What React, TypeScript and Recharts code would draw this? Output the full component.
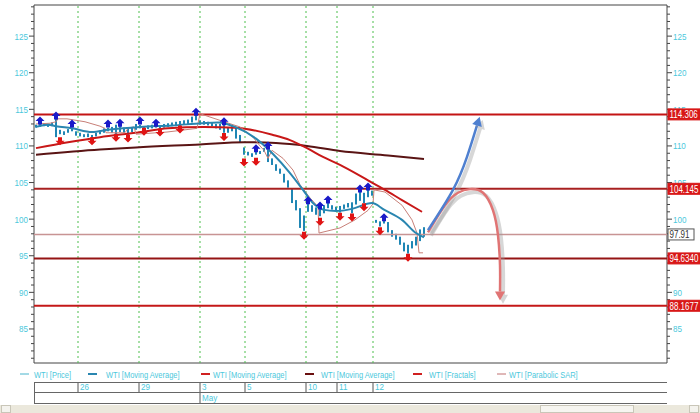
import React from "react";
import {
  ComposedChart,
  Bar,
  Line,
  Scatter,
  XAxis,
  YAxis,
  ReferenceLine,
  ReferenceArea,
} from "recharts";

// ---------- data ----------
const priceHigh = [
  112.9, 113.0, 113.1, 113.0, 113.2, 113.9,
  112.2, 112.0, 112.3, 112.5, 112.0,
  111.8, 111.6, 111.7, 111.5, 111.8, 112.1,
  112.4, 112.5, 112.6, 112.9, 112.7, 112.5, 112.4, 112.6, 113.0,
  112.9, 112.7, 112.8, 112.9, 112.8, 112.8, 113.0, 113.1, 113.2,
  113.3, 113.4, 113.5, 113.6, 114.0, 114.2,
  113.5, 113.4, 113.3, 113.2, 113.0, 113.0, 112.9, 112.5, 112.8,
  112.6, 111.5, 109.8, 109.2, 109.0, 109.2, 109.3, 109.7, 109.6, 108.3,
  107.5, 106.9, 106.2, 105.3, 104.2, 102.6, 101.5, 100.5, 102.1, 101.9,
  101.6, 101.4, 101.9, 102.2, 101.9, 101.7, 101.8, 102.0, 102.2, 102.3,
  103.5, 103.8, 103.6, 104.0, 103.9,
  99.9, 99.7, 99.8, 99.6, 98.5, 98.0, 97.6, 96.8, 96.5, 97.0, 97.6, 98.6, 98.9,
];
const priceLow = [
  112.5, 112.6, 112.7, 112.6, 112.7, 111.2,
  111.6, 111.5, 111.8, 112.0, 111.4,
  111.3, 111.2, 111.2, 111.0, 111.3, 111.6,
  111.8, 112.0, 111.8, 111.6, 111.9, 111.8, 111.5, 111.9, 112.2,
  112.4, 112.3, 112.3, 112.4, 112.5, 112.3, 112.5, 112.6, 112.7,
  112.7, 112.7, 113.0, 113.0, 113.2, 113.5,
  112.9, 112.9, 112.8, 112.7, 112.4, 112.2, 111.8, 111.8, 112.0,
  111.0, 110.5, 108.8, 108.7, 108.5, 108.8, 108.9, 109.2, 107.8, 107.4,
  106.6, 106.2, 105.0, 104.3, 102.2, 101.2, 98.8, 98.4, 101.0, 101.0,
  100.6, 100.4, 100.8, 101.5, 101.3, 101.2, 100.9, 101.4, 101.6, 100.8,
  102.0, 102.5, 102.2, 103.0, 103.2,
  99.5, 99.0, 99.4, 98.2, 97.6, 97.2, 96.5, 95.6, 95.3, 96.0, 96.4, 97.0, 97.6,
];

// [bar index, value]
const maFast = [
  [0, 112.6], [3, 112.9], [5, 112.7], [9, 112.4], [14, 111.9], [18, 112.2],
  [26, 112.6], [34, 112.8], [41.5, 113.1], [45.5, 113.2], [49.75, 112.6],
  [55, 111.0], [59.25, 108.9], [63.5, 106.3], [66.75, 104.0], [69.25, 102.2],
  [71.75, 101.3], [75, 101.1], [79, 101.4], [84, 102.2], [87, 101.3],
  [91.5, 99.9], [95, 98.1], [97, 97.5],
];
const maMid = [
  [0, 109.7], [8, 110.5], [16, 111.2], [25, 111.8], [33, 112.4], [42, 112.6],
  [50, 112.5], [59.25, 111.5], [63.5, 110.8], [67.75, 109.7], [71.75, 108.5],
  [76, 107.4], [83, 105.3], [87.25, 104.0], [91.5, 102.6], [96.5, 101.0],
];
const maSlow = [
  [0, 108.8], [16, 109.5], [25, 109.8], [41, 110.2], [52, 110.5], [60, 110.4],
  [67.75, 110.0], [76, 109.3], [88, 108.7], [97, 108.2],
];
const parabolicSar = [
  [0, 113.0], [3.5, 113.1], [5, 113.3], [5.5, 113.7], [7.75, 113.7],
  [12.25, 113.3], [16, 112.7], [17.25, 112.4], [17.5, 111.8], [22.25, 111.8],
  [23, 112.4], [24.5, 112.6], [25, 111.6], [32.75, 111.9], [40.25, 112.4],
  [41, 114.4], [49.25, 112.9], [51, 112.6], [54.25, 111.2], [56, 110.0],
  [57, 109.4], [58, 108.3], [59, 109.4], [61.75, 108.3], [64.25, 106.7],
  [66, 104.7], [68.5, 102.9], [70.5, 101.7], [70.75, 98.1], [76, 98.8],
  [79.75, 99.9], [83, 101.2], [84.25, 102.1], [84.5, 104.0], [87.25, 103.7],
  [91.5, 101.9], [94, 99.9], [95.25, 98.1], [95.75, 95.4], [96.75, 95.4],
];
const fractalUp = [
  [1, 113.4], [5, 114.1], [9, 113.0], [18, 113.0], [21, 113.1], [26, 113.4],
  [30, 113.1], [40, 114.6], [47, 113.3], [55, 109.6], [58, 110.0], [68, 102.5],
  [71, 101.8], [73, 102.6], [81, 104.1], [83, 104.4], [87, 100.2],
];
const fractalDown = [
  [6, 110.7], [14, 110.7], [20, 111.2], [23, 111.1], [27, 112.0], [31, 111.9],
  [36, 112.3], [47, 111.3], [52, 107.8], [55, 107.9], [67, 97.8], [71, 99.7],
  [76, 100.4], [79, 100.3], [82, 101.7], [86, 98.4], [93, 94.8],
];
const scenarioUp = [[98, 98.5], [104.25, 104.0], [107.75, 108.5], [110.25, 112.8]];
const scenarioDown = [
  [98, 98.2], [102.25, 101.9], [105.5, 103.6], [108.5, 104.1], [111.75, 103.6],
  [114.25, 101.2], [115.5, 97.8], [116, 93.7], [116, 90.1],
];

const levelValues = [114.306, 104.145, 97.91, 94.634, 88.1677];
const levelLabels = ["114.306", "104.145", "97.91", "94.6340", "88.1677"];

const dayTicks = [10.5, 25.75, 41, 52.25, 67.5, 75.25, 84.25];
const dayLabels = ["26", "29", "3", "5", "10", "11", "12"];
const monthLabels = ["", "", "May", "", "", "", ""];
const legendLabels = [
  "WTI [Price]",
  "WTI [Moving Average]",
  "WTI [Moving Average]",
  "WTI [Moving Average]",
  "WTI [Fractals]",
  "WTI [Parabolic SAR]",
];

// ---------- styles / layout ----------
const FONT = "'Liberation Sans',Arial,sans-serif";
const AXIS_TEXT = "#4cc8dc";
const Y_DOMAIN: [number, number] = [80.35, 129.25];
const X_DOMAIN: [number, number] = [-0.5, 157.75];
const yAllTicks = Array.from({ length: 49 }, (_, k) => 81 + k);
const levelStyles = [
  { stroke: "#c41414", width: 2, bg: "#d81818", fg: "#ffffff", border: "#d81818" },
  { stroke: "#a82020", width: 2, bg: "#d81818", fg: "#ffffff", border: "#d81818" },
  { stroke: "#c89494", width: 1.5, bg: "#ffffff", fg: "#333333", border: "#555555" },
  { stroke: "#951414", width: 2, bg: "#d81818", fg: "#ffffff", border: "#d81818" },
  { stroke: "#c41818", width: 2, bg: "#d81818", fg: "#ffffff", border: "#d81818" },
];
const legendLayout = [
  { lx: 20, tx: 34, color: "#48b4cc", w: 1 },
  { lx: 88, tx: 106, color: "#2a86b0", w: 2 },
  { lx: 201, tx: 213, color: "#d02020", w: 2 },
  { lx: 305, tx: 321, color: "#6a1010", w: 2 },
  { lx: 413, tx: 429, color: "#d02020", w: 2 },
  { lx: 497, tx: 509, color: "#c07070", w: 1 },
];
const TAG_X = 668;

const toPts = (arr: number[][]) => arr.map(([i, v]) => ({ i, v }));
const candles = priceHigh.map((h, i) => ({ i, range: [priceLow[i], h] }));
const shadowOf = (arr: number[][]) => arr.map(([i, v]) => [i + 0.75, v - 0.42]);

// narrow text helper (horizontal squeeze)
const NText = ({ x, y, sx = 0.82, anchor = "start", size = 9.5, fill = AXIS_TEXT, children }: any) => (
  <text
    transform={`translate(${x} ${y}) scale(${sx} 1)`}
    x={0}
    y={0}
    textAnchor={anchor}
    fontSize={size}
    fontFamily={FONT}
    fill={fill}
  >
    {children}
  </text>
);

// ---------- custom renderers ----------
const LeftTick = (props: any) => {
  const { x, y, payload } = props;
  const v = payload.value;
  const major = v % 5 === 0;
  return (
    <g>
      <line x1={x - (major ? 5 : 3)} x2={x} y1={y} y2={y} stroke="#444" />
      {major && (
        <NText x={x - 6} y={y + 3.5} anchor="end" sx={0.85}>
          {v}
        </NText>
      )}
    </g>
  );
};
const RightTick = (props: any) => {
  const { x, y, payload } = props;
  const v = payload.value;
  const major = v % 5 === 0;
  return (
    <g>
      <line x1={x} x2={x + (major ? 5 : 3)} y1={y} y2={y} stroke="#444" />
      {major && (
        <NText x={x + 6} y={y + 3.5} anchor="start" sx={0.85}>
          {v}
        </NText>
      )}
    </g>
  );
};
// tags for level lines, drawn by a thin axis placed at the right edge (rendered after the price axis)
const TagTick = (props: any) => {
  const { y, payload } = props;
  const k = levelValues.indexOf(payload.value);
  if (k < 0) return <g />;
  const st = levelStyles[k];
  const w = st.bg === "#ffffff" ? 26 : 40;
  return (
    <g>
      <rect x={TAG_X} y={y - 5.5} width={w} height={11} fill={st.bg} stroke={st.border} />
      <NText x={TAG_X + 1.5} y={y + 4} size={10} sx={0.8} fill={st.fg}>
        {levelLabels[k]}
      </NText>
    </g>
  );
};
const DateTick = (props: any) => {
  const { x, y, payload } = props;
  const k = dayTicks.indexOf(payload.value);
  return (
    <g>
      <line x1={x} x2={x} y1={y + 19} y2={y + 29} stroke="#555" />
      <NText x={x + 2} y={y + 27} sx={0.85}>
        {dayLabels[k]}
      </NText>
      {monthLabels[k] ? (
        <g>
          <line x1={x} x2={x} y1={y + 29} y2={y + 40} stroke="#555" />
          <NText x={x + 2} y={y + 38} sx={0.85}>
            {monthLabels[k]}
          </NText>
        </g>
      ) : null}
    </g>
  );
};
const CandleShape = (p: any) => {
  const cx = Math.round(p.x + p.width / 2);
  return <rect x={cx - 1} y={p.y} width={2} height={Math.max(p.height, 1)} fill="#1f86b4" />;
};
const UpArrow = (props: any) => {
  const { cx, cy } = props;
  return (
    <path
      d={`M${cx - 4.5},${cy} L${cx},${cy - 4.5} L${cx + 4.5},${cy} L${cx + 2},${cy} L${cx + 2},${cy + 3.5} L${cx - 2},${cy + 3.5} L${cx - 2},${cy} Z`}
      fill="#1a1ac8"
    />
  );
};
const DownArrow = (props: any) => {
  const { cx, cy } = props;
  return (
    <path
      d={`M${cx - 4.5},${cy} L${cx},${cy + 4.5} L${cx + 4.5},${cy} L${cx + 2},${cy} L${cx + 2},${cy - 3.5} L${cx - 2},${cy - 3.5} L${cx - 2},${cy} Z`}
      fill="#e01414"
    />
  );
};
const headDot = (len: number, color: string, dir: [number, number]) => (p: any) => {
  if (p.index !== len - 1) return <g key={`d${p.index}`} />;
  const { cx, cy } = p;
  const [dx, dy] = dir;
  const px = -dy, py = dx;
  const tip = [cx + dx * 9, cy + dy * 9];
  const a = [cx + px * 5, cy + py * 5];
  const b = [cx - px * 5, cy - py * 5];
  return (
    <polygon key={`d${p.index}`} points={`${tip[0]},${tip[1]} ${a[0]},${a[1]} ${b[0]},${b[1]}`} fill={color} />
  );
};

const upDir: [number, number] = [0.3, -0.954];
const downDir: [number, number] = [0, 1];

export default function App() {
  return (
    <div
      style={{
        position: "absolute",
        left: 0,
        top: 0,
        width: 700,
        height: 413,
        background: "#ffffff",
        overflow: "hidden",
      }}
    >
      <ComposedChart
        width={700}
        height={413}
        data={candles}
        margin={{ top: 5, right: 0, bottom: 0, left: 0 }}
      >
        <XAxis
          xAxisId="x"
          dataKey="i"
          type="number"
          domain={X_DOMAIN}
          allowDataOverflow
          ticks={dayTicks}
          interval={0}
          height={50}
          tickSize={0}
          tickMargin={0}
          axisLine={false}
          tickLine={false}
          tick={DateTick}
        />
        <YAxis
          yAxisId="left"
          orientation="left"
          type="number"
          domain={Y_DOMAIN}
          allowDataOverflow
          ticks={yAllTicks}
          interval={0}
          width={34}
          tickSize={0}
          tickMargin={0}
          axisLine={false}
          tickLine={false}
          tick={LeftTick}
        />
        <YAxis
          yAxisId="right"
          orientation="right"
          type="number"
          domain={Y_DOMAIN}
          allowDataOverflow
          ticks={yAllTicks}
          interval={0}
          width={32}
          tickSize={0}
          tickMargin={0}
          axisLine={false}
          tickLine={false}
          tick={RightTick}
        />
        <YAxis
          yAxisId="tags"
          orientation="right"
          type="number"
          domain={Y_DOMAIN}
          allowDataOverflow
          ticks={levelValues}
          interval={0}
          width={1}
          tickSize={0}
          tickMargin={0}
          axisLine={false}
          tickLine={false}
          tick={TagTick}
        />
        <ReferenceArea
          xAxisId="x"
          yAxisId="left"
          x1={X_DOMAIN[0]}
          x2={X_DOMAIN[1]}
          y1={Y_DOMAIN[0]}
          y2={Y_DOMAIN[1]}
          fill="none"
          stroke="#444"
          strokeWidth={1}
          ifOverflow="visible"
        />
        {dayTicks.map((t) => (
          <ReferenceLine
            key={`d${t}`}
            xAxisId="x"
            yAxisId="left"
            x={t}
            stroke="#4cbf4c"
            strokeDasharray="2 3"
          />
        ))}
        {levelValues.map((v, k) => (
          <ReferenceLine
            key={`l${k}`}
            xAxisId="x"
            yAxisId="left"
            y={v}
            stroke={levelStyles[k].stroke}
            strokeWidth={levelStyles[k].width}
          />
        ))}
        <Line
          xAxisId="x"
          yAxisId="left"
          data={toPts(maSlow)}
          dataKey="v"
          type="monotone"
          stroke="#5a1414"
          strokeWidth={2}
          dot={false}
          isAnimationActive={false}
        />
        <Line
          xAxisId="x"
          yAxisId="left"
          data={toPts(maMid)}
          dataKey="v"
          type="monotone"
          stroke="#c81818"
          strokeWidth={2}
          dot={false}
          isAnimationActive={false}
        />
        <Bar
          xAxisId="x"
          yAxisId="left"
          dataKey="range"
          barSize={2}
          fill="#1f86b4"
          shape={CandleShape}
          isAnimationActive={false}
        />
        <Line
          xAxisId="x"
          yAxisId="left"
          data={toPts(parabolicSar)}
          dataKey="v"
          type="linear"
          stroke="#c88078"
          strokeWidth={1}
          dot={false}
          isAnimationActive={false}
        />
        <Line
          xAxisId="x"
          yAxisId="left"
          data={toPts(maFast)}
          dataKey="v"
          type="monotone"
          stroke="#2a86b0"
          strokeWidth={2}
          dot={false}
          isAnimationActive={false}
        />
        <Scatter
          xAxisId="x"
          yAxisId="left"
          data={toPts(fractalUp)}
          dataKey="v"
          shape={UpArrow}
          isAnimationActive={false}
        />
        <Scatter
          xAxisId="x"
          yAxisId="left"
          data={toPts(fractalDown)}
          dataKey="v"
          shape={DownArrow}
          isAnimationActive={false}
        />
        <Line
          xAxisId="x"
          yAxisId="left"
          data={toPts(shadowOf(scenarioUp))}
          dataKey="v"
          type="natural"
          stroke="#9a9a9a"
          strokeOpacity={0.4}
          strokeWidth={4}
          dot={headDot(scenarioUp.length, "rgba(150,150,150,0.4)", upDir)}
          isAnimationActive={false}
        />
        <Line
          xAxisId="x"
          yAxisId="left"
          data={toPts(shadowOf(scenarioDown))}
          dataKey="v"
          type="natural"
          stroke="#9a9a9a"
          strokeOpacity={0.4}
          strokeWidth={4}
          dot={headDot(scenarioDown.length, "rgba(150,150,150,0.4)", downDir)}
          isAnimationActive={false}
        />
        <Line
          xAxisId="x"
          yAxisId="left"
          data={toPts(scenarioDown)}
          dataKey="v"
          type="natural"
          stroke="#e07474"
          strokeWidth={2.5}
          dot={headDot(scenarioDown.length, "#e07474", downDir)}
          isAnimationActive={false}
        />
        <Line
          xAxisId="x"
          yAxisId="left"
          data={toPts(scenarioUp)}
          dataKey="v"
          type="natural"
          stroke="#4f80d0"
          strokeWidth={2.5}
          dot={headDot(scenarioUp.length, "#4f80d0", upDir)}
          isAnimationActive={false}
        />
      </ComposedChart>

      {/* legend */}
      <svg width={700} height={14} style={{ position: "absolute", left: 0, top: 367 }}>
        {legendLabels.map((t, k) => (
          <g key={k}>
            <line
              x1={legendLayout[k].lx}
              x2={legendLayout[k].lx + 9}
              y1={7}
              y2={7}
              stroke={legendLayout[k].color}
              strokeWidth={legendLayout[k].w}
            />
            <NText x={legendLayout[k].tx} y={10.5} sx={0.79}>
              {t}
            </NText>
          </g>
        ))}
      </svg>

      {/* date rows frame */}
      <div style={{ position: "absolute", left: 34, top: 382, width: 633, height: 0, borderTop: "1px solid #666" }} />
      <div style={{ position: "absolute", left: 34, top: 392, width: 633, height: 0, borderTop: "1px solid #666" }} />
      <div style={{ position: "absolute", left: 34, top: 403, width: 633, height: 0, borderTop: "1px solid #666" }} />
      <div style={{ position: "absolute", left: 34, top: 382, width: 0, height: 21, borderLeft: "1px solid #666" }} />

      {/* scrollbar */}
      <div style={{ position: "absolute", left: 0, top: 405, width: 700, height: 8, background: "#ebe8dc" }} />
      <div style={{ position: "absolute", left: 1, top: 405, width: 10, height: 8, background: "#f4f3ee", border: "1px solid #c9c6b8", boxSizing: "border-box" }} />
      <div style={{ position: "absolute", left: 540, top: 405, width: 94, height: 8, background: "#f6f5f0", border: "1px solid #c9c6b8", boxSizing: "border-box" }} />
      <div style={{ position: "absolute", left: 689, top: 405, width: 10, height: 8, background: "#f4f3ee", border: "1px solid #c9c6b8", boxSizing: "border-box" }} />
    </div>
  );
}
